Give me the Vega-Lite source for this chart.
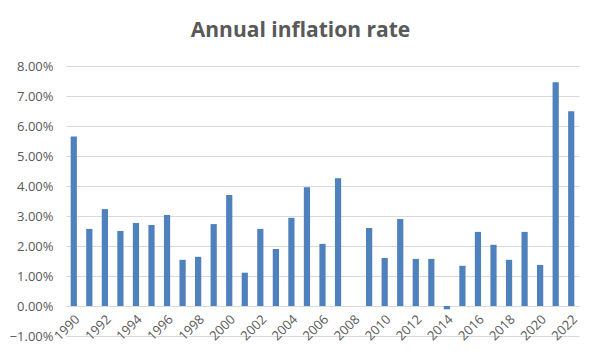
{
  "$schema": "https://vega.github.io/schema/vega-lite/v6.json",
  "autosize": "none",
  "width": 513,
  "height": 270,
  "padding": {"left": 66, "top": 66, "right": 22, "bottom": 25},
  "background": "white",
  "title": {
    "text": "Annual inflation rate",
    "font": "Open Sans",
    "fontSize": 21,
    "fontWeight": "bold",
    "color": "#595959",
    "anchor": "middle",
    "dx": -22,
    "offset": 19
  },
  "config": {
    "view": {"stroke": null},
    "font": "Open Sans"
  },
  "data": {
    "values": [
      {"year": 1990, "rate": 0.0565},
      {"year": 1991, "rate": 0.0257},
      {"year": 1992, "rate": 0.0323},
      {"year": 1993, "rate": 0.0250},
      {"year": 1994, "rate": 0.0277},
      {"year": 1995, "rate": 0.0270},
      {"year": 1996, "rate": 0.0303},
      {"year": 1997, "rate": 0.0154},
      {"year": 1998, "rate": 0.0164},
      {"year": 1999, "rate": 0.0273},
      {"year": 2000, "rate": 0.0370},
      {"year": 2001, "rate": 0.0111},
      {"year": 2002, "rate": 0.0257},
      {"year": 2003, "rate": 0.0190},
      {"year": 2004, "rate": 0.0294},
      {"year": 2005, "rate": 0.0396},
      {"year": 2006, "rate": 0.0207},
      {"year": 2007, "rate": 0.0426},
      {"year": 2008, "rate": 0.0},
      {"year": 2009, "rate": 0.0260},
      {"year": 2010, "rate": 0.0160},
      {"year": 2011, "rate": 0.0290},
      {"year": 2012, "rate": 0.0157},
      {"year": 2013, "rate": 0.0157},
      {"year": 2014, "rate": -0.0011},
      {"year": 2015, "rate": 0.0134},
      {"year": 2016, "rate": 0.0247},
      {"year": 2017, "rate": 0.0204},
      {"year": 2018, "rate": 0.0154},
      {"year": 2019, "rate": 0.0247},
      {"year": 2020, "rate": 0.0137},
      {"year": 2021, "rate": 0.0746},
      {"year": 2022, "rate": 0.0649}
    ]
  },
  "mark": {"type": "bar", "color": "#4f81bd"},
  "encoding": {
    "x": {
      "field": "year",
      "type": "ordinal",
      "scale": {"paddingInner": 0.6, "paddingOuter": 0.3},
      "axis": {
        "title": null,
        "offset": -30,
        "domain": false,
        "ticks": false,
        "grid": false,
        "labelAngle": -45,
        "labelAlign": "right",
        "labelBaseline": "middle",
        "labelPadding": 11,
        "labelOffset": 4,
        "labelFontSize": 13,
        "labelColor": "#595959",
        "labelOverlap": false,
        "labelExpr": "datum.value % 2 == 0 ? datum.label : ''"
      }
    },
    "y": {
      "field": "rate",
      "type": "quantitative",
      "scale": {"domain": [-0.01, 0.08], "nice": false, "zero": false},
      "axis": {
        "title": null,
        "format": ".2%",
        "values": [-0.01, 0, 0.01, 0.02, 0.03, 0.04, 0.05, 0.06, 0.07, 0.08],
        "domain": false,
        "ticks": false,
        "grid": true,
        "gridColor": "#d9d9d9",
        "gridWidth": 1,
        "labelFontSize": 13,
        "labelColor": "#595959",
        "labelPadding": 13
      }
    }
  }
}
